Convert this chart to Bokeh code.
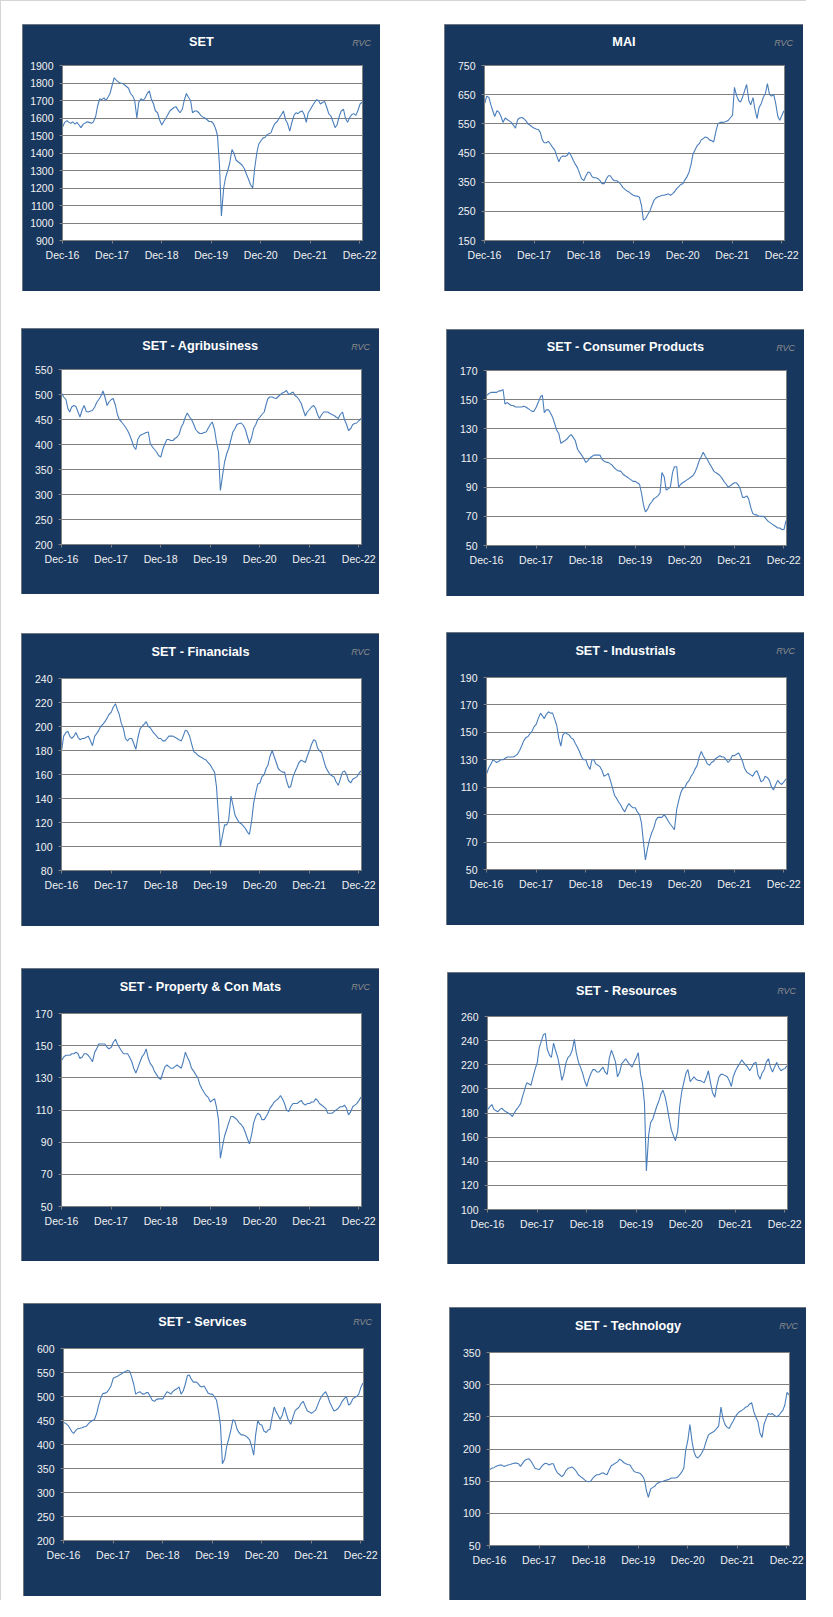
import pandas as pd
from bokeh.plotting import figure
from bokeh.models import Range1d, FixedTicker, LinearAxis, Spacer
from bokeh.layouts import column, row
from bokeh.embed import file_html
from bokeh.resources import INLINE

# ---------------- data ----------------
dates = pd.date_range("2017-01-01", periods=146, freq="SMS")
origin = pd.Timestamp("2016-12-30")
axis_end = pd.Timestamp("2023-01-19")
x_days = [int((d - origin).days) for d in dates]
x_end = int((axis_end - origin).days)

tick_dates = ["2016-12-30", "2017-12-30", "2018-12-30", "2019-12-30",
              "2020-12-30", "2021-12-30", "2022-12-30"]
tick_labels = ["Dec-16", "Dec-17", "Dec-18", "Dec-19", "Dec-20", "Dec-21", "Dec-22"]

set_vals = [
    1550, 1575, 1585, 1575, 1570, 1578, 1565, 1575, 1560, 1545, 1565, 1572, 1578, 1575, 1570, 1578, 1610, 1670, 1710, 1705, 1715, 1700, 1720, 1740,
    1790, 1830, 1815, 1805, 1800, 1798, 1790, 1780, 1770, 1740, 1725, 1700, 1600, 1690, 1710, 1700, 1715, 1740, 1755, 1710, 1680, 1640, 1630, 1590,
    1560, 1580, 1600, 1620, 1640, 1650, 1660, 1665, 1645, 1630, 1650, 1700, 1740, 1720, 1700, 1630, 1640, 1640, 1630, 1615, 1605, 1600, 1590, 1580,
    1580, 1570, 1540, 1500, 1330, 1040, 1200, 1260, 1300, 1340, 1420, 1400, 1360, 1350, 1340, 1330, 1310, 1280, 1250, 1220, 1200, 1310, 1400, 1450,
    1470, 1485, 1490, 1505, 1510, 1515, 1550, 1570, 1580, 1600, 1620, 1640, 1590, 1570, 1525, 1570, 1615, 1630, 1625, 1635, 1640, 1620, 1575, 1630,
    1650, 1670, 1690, 1705, 1700, 1680, 1690, 1695, 1660, 1625, 1610, 1580, 1545, 1560, 1610, 1640, 1650, 1600, 1575, 1600, 1620, 1625, 1615, 1640,
    1680, 1690]

mai_vals = [
    620, 645, 640, 615, 595, 575, 595, 590, 575, 555, 570, 565, 560, 555, 545, 535, 565, 570, 572, 568, 560, 550, 545, 540,
    535, 532, 530, 520, 495, 485, 485, 490, 480, 470, 460, 440, 420, 435, 440, 438, 442, 452, 440, 425, 410, 400, 380, 362,
    355, 370, 385, 382, 370, 365, 365, 362, 355, 345, 345, 360, 372, 372, 360, 355, 355, 350, 342, 332, 325, 320, 316, 310,
    305, 303, 302, 298, 270, 220, 225, 238, 250, 268, 288, 295, 300, 302, 305, 305, 308, 310, 305, 310, 318, 328, 335, 342,
    345, 358, 370, 385, 410, 445, 462, 475, 482, 495, 500, 505, 502, 495, 492, 488, 525, 550, 555, 555, 556, 558, 562, 570,
    580, 675, 645, 630, 625, 640, 665, 685, 630, 615, 640, 600, 568, 605, 620, 640, 655, 688, 650, 645, 650, 620, 575, 562,
    580, 595]

agri_vals = [
    502, 495, 490, 472, 465, 475, 478, 476, 465, 455, 470, 478, 466, 465, 467, 468, 475, 484, 490, 496, 507, 495, 478, 485,
    490, 492, 478, 460, 450, 446, 440, 435, 428, 420, 408, 396, 390, 410, 418, 420, 422, 424, 425, 402, 395, 390, 385, 378,
    375, 390, 402, 410, 410, 408, 408, 412, 415, 420, 435, 442, 455, 463, 455, 450, 440, 430, 425, 422, 422, 424, 425, 432,
    440, 445, 430, 405, 385, 308, 340, 365, 382, 392, 410, 425, 432, 440, 442, 443, 438, 430, 415, 402, 415, 432, 440, 450,
    455, 460, 465, 480, 492, 495, 495, 493, 492, 496, 500, 503, 505, 508, 500, 502, 505, 498, 495, 490, 482, 470, 457, 465,
    470, 475, 478, 472, 460, 452, 460, 465, 465, 465, 462, 460, 458, 455, 452, 460, 465, 450, 440, 428, 432, 440, 442, 443,
    448, 452]

cons_vals = [
    153, 154, 155, 155, 155, 155, 156, 156, 157, 147, 148, 147, 146, 146, 145, 145, 145, 145, 145.5, 145, 144, 143, 142, 142,
    145, 148, 152, 153, 141, 143, 143, 141, 138, 134, 129, 127, 120, 121, 122, 123, 125, 126, 124, 122, 116, 114, 112, 110,
    107, 108, 110, 111, 112, 112, 112, 112, 109, 108, 107, 107, 106, 105, 103, 102, 101, 101, 99, 98, 97, 96, 95, 94,
    94, 93, 92, 86, 78, 73, 75, 78, 80, 82, 83, 84, 86, 100, 97, 88, 89, 90, 100, 104, 104, 90, 92, 93,
    94, 95, 96, 97, 98, 100, 104, 108, 111, 114, 111, 109, 106, 104, 101, 100, 99, 98, 96, 94, 92, 90, 91, 92,
    93, 93, 91, 88, 83, 83, 84, 82, 76, 72, 71, 71, 70, 70, 70, 69, 67, 66, 65, 64, 63, 62, 62, 61,
    61, 67]

fin_vals = [
    181, 192, 195, 196, 192, 190, 192, 195, 191, 189, 190, 190, 191, 192, 188, 184, 192, 194, 197, 200, 202, 204, 207, 210,
    212, 216, 219, 214, 210, 203, 198, 190, 188, 190, 190, 186, 181, 190, 198, 200, 202, 204, 200, 199, 196, 194, 192, 190,
    190, 188, 188, 190, 192, 192, 192, 191, 190, 189, 188, 192, 197, 196, 192, 186, 179, 178, 176, 175, 174, 173, 172, 170,
    168, 165, 162, 150, 125, 100, 110, 118, 118, 122, 142, 135, 126, 123, 120, 119, 117, 115, 112, 110, 122, 136, 145, 152,
    153, 158, 160, 165, 168, 175, 180, 175, 170, 165, 163, 162, 162, 155, 149, 150, 158, 162, 166, 170, 172, 171, 170, 175,
    180, 185, 189, 188, 182, 180, 178, 172, 166, 163, 160, 159, 158, 154, 151, 156, 162, 163, 160, 155, 153, 156, 157, 158,
    161, 163]

ind_vals = [
    120, 124, 127, 130, 129, 128, 129, 130, 130, 131, 132, 132, 132, 132, 133, 134, 137, 140, 144, 146, 147, 149, 151, 154,
    156, 160, 164, 162, 160, 163, 165, 164, 164, 160, 155, 146, 140, 148, 150, 149, 148, 146, 145, 142, 139, 136, 132, 130,
    130, 126, 123, 130, 130, 127, 126, 125, 122, 118, 119, 120, 115, 110, 104, 102, 99, 97, 94, 92, 96, 98, 96, 95,
    95, 92, 90, 84, 70, 57, 66, 72, 77, 80, 86, 88, 88, 88, 90, 88, 85, 83, 81, 79, 94, 100, 106, 109,
    110, 113, 115, 118, 120, 123, 126, 132, 136, 133, 130, 127, 126, 128, 129, 131, 132, 133, 132, 132, 130, 128, 130, 133,
    133, 134, 135, 132, 129, 124, 121, 120, 119, 118, 121, 122, 118, 114, 115, 118, 117, 115, 110, 108, 112, 115, 113, 112,
    114, 116]

prop_vals = [
    141, 143, 144, 144, 144, 145, 145, 146, 145, 142, 143, 145, 145, 144, 142, 140, 146, 148, 151, 151, 151, 151, 149, 148,
    149, 152, 154, 151, 149, 147, 145, 145, 145, 143, 140, 136, 133, 136, 140, 143, 145, 148, 142, 139, 137, 134, 132, 130,
    129, 133, 137, 138, 137, 136, 136, 137, 138, 137, 136, 140, 146, 143, 140, 136, 134, 132, 130, 126, 123, 121, 119, 118,
    115, 116, 117, 112, 104, 80, 88, 94, 98, 102, 106, 106, 105, 104, 102, 101, 99, 96, 92, 89, 95, 102, 106, 108,
    107, 104, 104, 106, 108, 111, 113, 115, 116, 117, 119, 117, 114, 110, 109, 112, 114, 114, 114, 115, 116, 114, 113, 114,
    114, 115, 115, 117, 116, 114, 113, 112, 111, 108, 108, 108, 109, 110, 111, 112, 112, 113, 111, 107, 109, 112, 113, 114,
    116, 118]

res_vals = [
    183, 185, 187, 183, 182, 181, 183, 184, 182, 181, 180, 179, 177, 180, 183, 185, 188, 194, 200, 205, 204, 203, 210, 216,
    222, 234, 240, 245, 246, 233, 228, 226, 238, 232, 226, 218, 207, 212, 222, 226, 228, 232, 241, 230, 222, 218, 213, 207,
    202, 208, 213, 216, 216, 214, 214, 216, 218, 214, 212, 225, 232, 228, 222, 210, 214, 221, 223, 225, 222, 220, 218, 222,
    226, 230, 212, 205, 188, 132, 162, 172, 175, 180, 186, 190, 196, 199, 193, 185, 174, 166, 161, 157, 165, 185, 198, 205,
    213, 216, 206, 208, 210, 208, 207, 207, 206, 205, 210, 215, 205, 197, 193, 202, 210, 212, 212, 211, 210, 207, 202, 210,
    215, 218, 221, 224, 222, 220, 218, 215, 218, 221, 222, 212, 208, 213, 216, 222, 225, 218, 214, 218, 222, 218, 215, 216,
    217, 219]

serv_vals = [
    446, 444, 440, 434, 427, 423, 430, 433, 434, 435, 437, 438, 443, 447, 450, 452, 465, 482, 497, 506, 507, 509, 515, 522,
    538, 540, 542, 545, 547, 550, 552, 554, 553, 542, 525, 505, 508, 510, 506, 505, 508, 508, 500, 492, 490, 494, 495, 495,
    495, 502, 510, 508, 505, 510, 514, 516, 520, 505, 512, 525, 543, 545, 535, 530, 530, 528, 522, 520, 522, 515, 507, 505,
    505, 500, 492, 470, 440, 360, 370, 395, 412, 428, 452, 448, 432, 425, 420, 420, 418, 415, 410, 398, 378, 420, 450, 442,
    440, 428, 425, 430, 432, 455, 478, 468, 460, 452, 462, 478, 462, 450, 442, 455, 470, 474, 478, 485, 490, 480, 470, 468,
    465, 468, 472, 482, 492, 500, 506, 510, 500, 488, 478, 470, 472, 475, 482, 490, 496, 500, 482, 485, 495, 498, 500, 505,
    520, 528]

tech_vals = [
    168, 170, 171, 173, 174, 175, 175, 173, 174, 175, 176, 177, 178, 178, 177, 173, 178, 182, 184, 185, 181, 176, 170, 169,
    168, 172, 176, 178, 177, 175, 177, 177, 168, 163, 160, 157, 160, 166, 170, 171, 172, 169, 165, 160, 157, 155, 152, 150,
    149, 150, 155, 158, 160, 160, 162, 163, 161, 160, 168, 174, 176, 178, 180, 184, 182, 179, 177, 176, 175, 170, 165, 164,
    163, 162, 158, 152, 135, 125, 138, 140, 142, 146, 148, 149, 150, 151, 152, 153, 155, 155, 155, 156, 160, 164, 170, 198,
    215, 238, 210, 195, 188, 186, 190, 195, 202, 212, 222, 224, 226, 228, 232, 236, 265, 248, 238, 234, 232, 238, 244, 250,
    255, 258, 260, 262, 265, 266, 270, 272, 258, 250, 242, 225, 218, 238, 248, 255, 254, 255, 252, 250, 252, 256, 260, 268,
    288, 284]

titles = ["SET", "MAI", "SET - Agribusiness", "SET - Consumer Products", "SET - Financials",
          "SET - Industrials", "SET - Property & Con Mats", "SET - Resources", "SET - Services",
          "SET - Technology"]
series = [set_vals, mai_vals, agri_vals, cons_vals, fin_vals, ind_vals, prop_vals, res_vals,
          serv_vals, tech_vals]
y_ticks = [
    [900, 1000, 1100, 1200, 1300, 1400, 1500, 1600, 1700, 1800, 1900],
    [150, 250, 350, 450, 550, 650, 750],
    [200, 250, 300, 350, 400, 450, 500, 550],
    [50, 70, 90, 110, 130, 150, 170],
    [80, 100, 120, 140, 160, 180, 200, 220, 240],
    [50, 70, 90, 110, 130, 150, 170, 190],
    [50, 70, 90, 110, 130, 150, 170],
    [100, 120, 140, 160, 180, 200, 220, 240, 260],
    [200, 250, 300, 350, 400, 450, 500, 550, 600],
    [50, 100, 150, 200, 250, 300, 350],
]
brand = "RVC"

# ---------------- style / geometry ----------------
NAVY = "#17375E"
GRAY = "#808080"
LINE = "#4A7EBB"
FONT = "Liberation Sans"

# (panel width, panel height, frame top offset, frame height, rvc standoff, title standoff)
geom = [
    (358, 267, 41, 175, 18, -14), (359, 267, 41, 175, 18, -14),
    (358, 266, 41, 175, 18, -14), (358, 267, 41, 175, 18, -14),
    (358, 293, 45, 192, 22, -15), (358, 293, 45, 192, 22, -15),
    (358, 293, 45, 193, 22, -15), (358, 292, 44, 193, 21, -15),
    (358, 293, 45, 192, 22, -15), (357, 293, 45, 193, 22, -15),
]

xt = [int((pd.Timestamp(d) - origin).days) for d in tick_dates]


def bare_axis(ax):
    ax.axis_line_color = None
    ax.major_tick_line_color = None
    ax.minor_tick_line_color = None
    ax.major_tick_out = 0
    ax.major_tick_in = 0
    ax.major_label_text_font = FONT


def make_panel(i):
    W, H, ft, fh, rvc_so, title_so = geom[i]
    fl, fw = 40, 300
    yt = y_ticks[i]
    p = figure(frame_width=fw, frame_height=fh,
               min_border_left=fl, min_border_right=W - fl - fw,
               min_border_top=ft, min_border_bottom=H - ft - fh,
               x_range=Range1d(0, x_end), y_range=Range1d(yt[0], yt[-1]),
               output_backend="svg", toolbar_location=None,
               styles={"outline": "1px solid #8C8C8C", "outline-offset": "-1px"})
    p.border_fill_color = NAVY
    p.background_fill_color = "white"
    p.outline_line_color = GRAY
    p.outline_line_width = 1

    p.line(x_days, series[i], line_color=LINE, line_width=1.1)

    p.xgrid.visible = False
    p.yaxis.ticker = FixedTicker(ticks=yt)
    p.ygrid.ticker = FixedTicker(ticks=yt)
    p.ygrid.grid_line_color = GRAY
    p.ygrid.grid_line_width = 1

    p.xaxis.ticker = FixedTicker(ticks=xt)
    p.xaxis.major_label_overrides = {t: lab for t, lab in zip(xt, tick_labels)}

    for ax in (p.xaxis[0], p.yaxis[0]):
        ax.axis_line_color = GRAY
        ax.major_tick_line_color = GRAY
        ax.major_tick_out = 3
        ax.major_tick_in = 0
        ax.minor_tick_line_color = None
        ax.major_label_text_color = "#F2F2F2"
        ax.major_label_text_font = FONT
        ax.major_label_text_font_size = "10.5px"
    p.yaxis.major_label_standoff = 6
    p.xaxis.major_label_standoff = 5

    # "RVC" mark, right above the frame's right edge (nearest panel above the frame)
    x_rvc = x_end - 6
    rvc_axis = LinearAxis(ticker=FixedTicker(ticks=[x_rvc]),
                          major_label_overrides={x_rvc: brand})
    bare_axis(rvc_axis)
    rvc_axis.major_label_standoff = rvc_so
    rvc_axis.major_label_text_font_size = "9px"
    rvc_axis.major_label_text_font_style = "italic"
    rvc_axis.major_label_text_color = "#8C8C8C"
    p.add_layout(rvc_axis, "above")

    # chart title, centred on the whole panel
    x_t = int(round(x_end * (W / 2 - fl) / fw))
    title_axis = LinearAxis(ticker=FixedTicker(ticks=[x_t]),
                            major_label_overrides={x_t: titles[i]})
    bare_axis(title_axis)
    title_axis.major_label_standoff = title_so
    title_axis.major_label_text_font_size = "12.7px"
    title_axis.major_label_text_font_style = "bold"
    title_axis.major_label_text_color = "white"
    p.add_layout(title_axis, "above")
    return p


P = [make_panel(i) for i in range(10)]


def sp(w=1, h=1):
    return Spacer(width=w, height=h)


layout = column(
    sp(h=24),
    row(sp(w=22), P[0], sp(w=64), P[1]),
    sp(h=37),
    row(sp(w=21), P[2], sp(w=67), column(sp(h=1), P[3])),
    sp(h=36),
    row(sp(w=21), column(sp(h=1), P[4]), sp(w=67), P[5]),
    sp(h=42),
    row(sp(w=21), P[6], sp(w=68), column(sp(h=4), P[7])),
    sp(h=39),
    row(sp(w=23), P[8], sp(w=68), column(sp(h=4), P[9])),
    styles={"box-shadow": "inset 1px 1px 0 0 #D4D4D4"},
)

open("out.html", "w").write(file_html(layout, INLINE))
